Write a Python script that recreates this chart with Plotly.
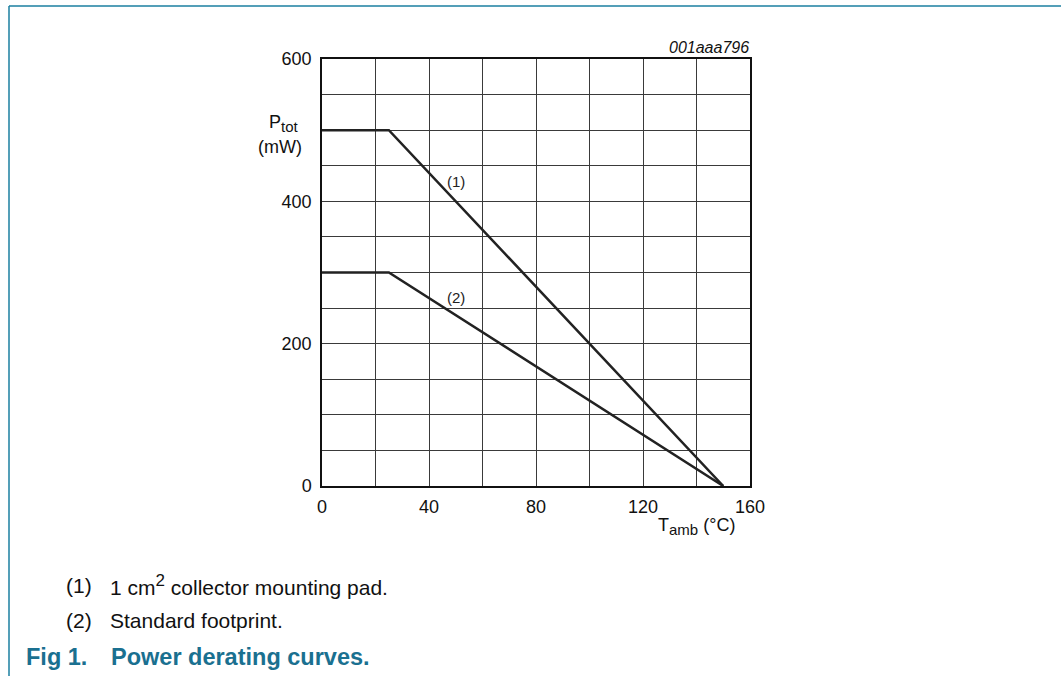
import plotly.graph_objects as go

# Data
t_amb_1 = [0, 25, 150]
p_tot_1 = [500, 500, 0]
t_amb_2 = [0, 25, 150]
p_tot_2 = [300, 300, 0]
curve_labels = ["(1)", "(2)"]
label_pos_x = [50, 50]
label_pos_y = [428, 265]
x_ticks = [0, 40, 80, 120, 160]
y_ticks = [0, 200, 400, 600]
notes = ["1 cm<sup><span style='font-size:17px'>2</span></sup> collector mounting pad.",
         "Standard footprint."]

L, R, T, B = 322, 750, 59, 486
W, H = 1061, 676
pw, ph = R - L, B - T

def px(x):
    return (x - L) / pw

def py(y):
    return (B - y) / ph

FONT = "Liberation Sans, Arial, sans-serif"
LINE = "#222222"
GRID = "#3a3a3a"

fig = go.Figure()
fig.add_trace(go.Scatter(x=t_amb_1, y=p_tot_1, mode="lines",
                         line=dict(color=LINE, width=2.5), hoverinfo="skip"))
fig.add_trace(go.Scatter(x=t_amb_2, y=p_tot_2, mode="lines",
                         line=dict(color=LINE, width=2.5), hoverinfo="skip"))

for lab, lx, ly in zip(curve_labels, label_pos_x, label_pos_y):
    fig.add_annotation(x=lx, y=ly, text=lab, showarrow=False,
                       font=dict(family=FONT, size=15, color="#222"),
                       xanchor="center", yanchor="middle")

axis_common = dict(showgrid=True, gridcolor=GRID, gridwidth=1,
                   zeroline=False, showline=True, linecolor="#111", linewidth=1.5,
                   mirror=True, ticks="", tickfont=dict(family=FONT, size=18, color="#111"),
                   fixedrange=True)

fig.update_xaxes(range=[0, 160], tickvals=x_ticks,
                 minor=dict(tickvals=list(range(0, 161, 20)), showgrid=True,
                            gridcolor=GRID, gridwidth=1),
                 ticklabelstandoff=4, **axis_common)
fig.update_yaxes(range=[0, 600], tickvals=y_ticks,
                 minor=dict(tickvals=list(range(0, 601, 50)), showgrid=True,
                            gridcolor=GRID, gridwidth=1),
                 ticklabelstandoff=5, **axis_common)

TXT = dict(family=FONT, size=18, color="#111")
# Axis titles
fig.add_annotation(xref="paper", yref="paper", x=px(284), y=py(124),
                   text="P<sub><span style='font-size:15px'>tot</span></sub>",
                   showarrow=False, font=TXT, xanchor="center", yanchor="middle")
fig.add_annotation(xref="paper", yref="paper", x=px(280), y=py(147),
                   text="(mW)", showarrow=False, font=TXT,
                   xanchor="center", yanchor="middle")
fig.add_annotation(xref="paper", yref="paper", x=px(696), y=py(526),
                   text="T<sub><span style='font-size:15px'>amb</span></sub> (°C)",
                   showarrow=False, font=TXT, xanchor="center", yanchor="middle")
fig.add_annotation(xref="paper", yref="paper", x=px(751), y=py(48),
                   text="<i>001aaa796</i>", showarrow=False,
                   font=dict(family=FONT, size=16, color="#111"),
                   xanchor="right", yanchor="middle")

# Footnotes
NOTE = dict(family=FONT, size=21, color="#111")
for i, note in enumerate(notes):
    yy = 585 + i * 35
    fig.add_annotation(xref="paper", yref="paper", x=px(64), y=py(yy),
                       text=f"({i+1})", showarrow=False, font=NOTE,
                       xanchor="left", yanchor="middle")
    fig.add_annotation(xref="paper", yref="paper", x=px(108), y=py(yy),
                       text=note, showarrow=False, font=NOTE,
                       xanchor="left", yanchor="middle")

TEAL = "#1a7090"
CAP = dict(family=FONT, size=23.5, color=TEAL)
fig.add_annotation(xref="paper", yref="paper", x=px(24), y=py(657),
                   text="<b>Fig 1.</b>", showarrow=False, font=CAP,
                   xanchor="left", yanchor="middle")
fig.add_annotation(xref="paper", yref="paper", x=px(109), y=py(657),
                   text="<b>Power derating curves.</b>", showarrow=False, font=CAP,
                   xanchor="left", yanchor="middle")

# Page frame lines
FRAME = "#1b7fa0"
fig.add_shape(type="line", xref="paper", yref="paper",
              x0=px(9), x1=px(W + 5), y0=py(6), y1=py(6),
              line=dict(color=FRAME, width=1.5))
fig.add_shape(type="line", xref="paper", yref="paper",
              x0=px(9), x1=px(9), y0=py(6), y1=py(H + 5),
              line=dict(color=FRAME, width=1.5))

fig.update_layout(width=W, height=H, showlegend=False,
                  margin=dict(l=L, r=W - R, t=T, b=H - B),
                  paper_bgcolor="white", plot_bgcolor="white")

fig.write_html("out.html", config={"displayModeBar": False},
               post_script="document.body.style.margin='0px';document.body.style.overflow='hidden';")
